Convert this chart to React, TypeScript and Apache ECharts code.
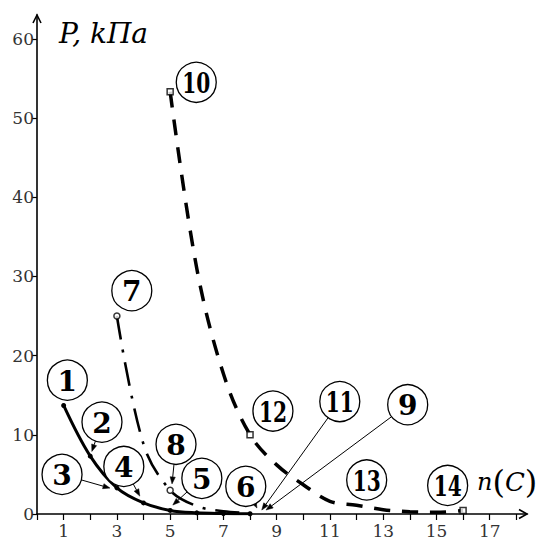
import React, { useEffect, useRef } from 'react';
import * as echarts from 'echarts';

// Curve 1 (solid, points 1–6)
const n1 = [1, 2, 3, 4, 5, 6, 7, 8];
const p1 = [13.7, 7.3, 3.3, 1.4, 0.45, 0.15, 0.06, 0.03];
// Curve 2 (dash-dot, points 7–9)
const n2 = [3, 4, 5, 6, 7, 8];
const p2 = [25, 8.8, 3.0, 1.0, 0.35, 0.12];
const marked2 = [0, 2];
// Curve 3 (dashed, points 10–14)
const n3 = [5, 6, 7, 8, 9, 10, 11, 12, 13, 14, 15, 16];
const p3 = [53.3, 31, 17.7, 10, 6.2, 3.7, 1.6, 1.1, 0.55, 0.28, 0.22, 0.45];
const marked3 = [0, 3, 11];

// Axis ticks
const xTickValues = [0, 1, 2, 3, 4, 5, 6, 7, 8, 9, 10, 11, 12, 13, 14, 15, 16, 17, 18];
const xLabelValues = [1, 3, 5, 7, 9, 11, 13, 15, 17];
const yTickValues = [0, 10, 20, 30, 40, 50, 60];

// Callout circles (label, centre in data units)
const calloutText = ['1', '2', '3', '4', '5', '6', '7', '8', '9', '10', '11', '12', '13', '14'];
const calloutN = [1.14, 2.44, 0.94, 3.26, 6.19, 7.84, 3.56, 5.22, 13.92, 5.98, 11.37, 8.86, 12.38, 15.42];
const calloutP = [16.9, 11.6, 5.0, 6.0, 4.5, 3.5, 28.2, 8.8, 13.8, 54.5, 14.2, 13.0, 4.3, 3.6];

// Leader arrows: which callout, target in data units
const leaderOf = ['2', '3', '4', '8', '5', '6', '11', '9'];
const leaderToN = [2.06, 2.74, 3.86, 5.07, 5.1, 8.26, 8.44, 8.6];
const leaderToP = [7.9, 3.27, 2.26, 3.8, 1.13, 0.75, 0.5, 0.5];

const SERIF = 'DejaVu Serif';

export default function App() {
  const ref = useRef<HTMLDivElement>(null);

  useEffect(() => {
    if (!ref.current) return;
    const chart = echarts.init(ref.current, undefined, { renderer: 'svg' });

    const zip = (xs: number[], ys: number[]) => xs.map((x, i) => [x, ys[i]]);

    chart.setOption({
      animation: false,
      backgroundColor: '#ffffff',
      textStyle: { fontFamily: SERIF },
      grid: { left: 37, right: 13, top: 15, bottom: 23, containLabel: false },
      xAxis: {
        type: 'value',
        min: 0,
        max: 18.4,
        splitLine: { show: false },
        axisLine: { onZero: false, lineStyle: { color: '#000', width: 1.6 } },
        axisTick: {
          show: true,
          length: 6,
          customValues: xTickValues,
          lineStyle: { color: '#000', width: 1.2 },
        },
        axisLabel: {
          customValues: xLabelValues,
          margin: 8,
          fontFamily: SERIF,
          fontSize: 17,
          color: '#333',
        },
      },
      yAxis: {
        type: 'value',
        min: 0,
        max: 63,
        splitLine: { show: false },
        axisLine: { onZero: false, lineStyle: { color: '#000', width: 1.6 } },
        axisTick: {
          show: true,
          length: 5,
          customValues: yTickValues,
          lineStyle: { color: '#000', width: 1.2 },
        },
        axisLabel: {
          customValues: yTickValues,
          margin: 3,
          fontFamily: SERIF,
          fontSize: 17,
          color: '#333',
        },
      },
      series: [
        {
          type: 'line',
          data: zip(n1, p1),
          smooth: 0.35,
          symbol: 'circle',
          symbolSize: 5,
          itemStyle: { color: '#000' },
          lineStyle: { color: '#000', width: 3 },
          z: 3,
        },
        {
          type: 'line',
          data: zip(n2, p2),
          smooth: 0.35,
          showSymbol: false,
          lineStyle: { color: '#000', width: 2.6, type: [24, 10, 3, 10] },
          z: 3,
        },
        {
          type: 'line',
          data: zip(n3, p3),
          smooth: 0.35,
          showSymbol: false,
          lineStyle: { color: '#000', width: 3.5, type: [16, 12] },
          z: 3,
        },
        {
          type: 'scatter',
          data: marked2.map((i) => [n2[i], p2[i]]),
          symbol: 'circle',
          symbolSize: 6,
          itemStyle: { color: '#fff', borderColor: '#000', borderWidth: 1.5 },
          z: 5,
        },
        {
          type: 'scatter',
          data: marked3.map((i) => [n3[i], p3[i]]),
          symbol: 'rect',
          symbolSize: 6,
          itemStyle: { color: '#fff', borderColor: '#000', borderWidth: 1.5 },
          z: 5,
        },
      ],
    });

    const px = (n: number, p: number) =>
      chart.convertToPixel({ gridIndex: 0 }, [n, p]) as number[];

    const R = 20;
    const elements: any[] = [];

    // Axis arrowheads
    const xEnd = px(18.4, 0);
    const yEnd = px(0, 63);
    elements.push({
      type: 'polyline',
      shape: { points: [[xEnd[0] - 8, xEnd[1] - 4.5], [xEnd[0], xEnd[1]], [xEnd[0] - 8, xEnd[1] + 4.5]] },
      style: { stroke: '#000', lineWidth: 1.6, fill: 'none' },
      z: 10,
    });
    elements.push({
      type: 'polyline',
      shape: { points: [[yEnd[0] - 4, yEnd[1] + 8], [yEnd[0], yEnd[1]], [yEnd[0] + 4, yEnd[1] + 8]] },
      style: { stroke: '#000', lineWidth: 1.6, fill: 'none' },
      z: 10,
    });

    // Axis names
    elements.push({
      type: 'text',
      x: 59,
      y: 33,
      style: {
        text: 'P, kПa',
        fontFamily: SERIF,
        fontStyle: 'italic',
        fontSize: 28,
        fill: '#000',
        align: 'left',
        verticalAlign: 'middle',
      },
      z: 10,
    });
    elements.push({
      type: 'text',
      x: 477,
      y: 482,
      style: {
        text: '{n|n}{p|(}{c|C}{p|)}',
        fontFamily: SERIF,
        align: 'left',
        verticalAlign: 'middle',
        rich: {
          n: { fontFamily: SERIF, fontStyle: 'italic', fontSize: 24, fill: '#000' },
          p: { fontFamily: SERIF, fontSize: 32, fill: '#000' },
          c: { fontFamily: SERIF, fontStyle: 'italic', fontSize: 26, fill: '#000' },
        },
      },
      z: 10,
    });

    // Callout circles
    calloutText.forEach((t, i) => {
      const c = px(calloutN[i], calloutP[i]);
      elements.push({
        type: 'circle',
        shape: { cx: c[0], cy: c[1], r: R },
        style: { fill: '#fff', stroke: '#000', lineWidth: 1.3 },
        z: 8,
      });
      elements.push({
        type: 'text',
        x: c[0],
        y: c[1] + 1,
        scaleX: t.length > 1 ? 0.72 : 1,
        style: {
          text: t,
          fontFamily: SERIF,
          fontWeight: 'bold',
          fontSize: 28,
          fill: '#000',
          align: 'center',
          verticalAlign: 'middle',
        },
        z: 9,
      });
    });

    // Leader arrows
    leaderOf.forEach((t, k) => {
      const i = calloutText.indexOf(t);
      const c = px(calloutN[i], calloutP[i]);
      const e = px(leaderToN[k], leaderToP[k]);
      const dx = e[0] - c[0];
      const dy = e[1] - c[1];
      const len = Math.hypot(dx, dy);
      const ux = dx / len;
      const uy = dy / len;
      const s = [c[0] + ux * R, c[1] + uy * R];
      const ah = 7;
      const aw = 2.6;
      const b = [e[0] - ux * ah, e[1] - uy * ah];
      elements.push({
        type: 'line',
        shape: { x1: s[0], y1: s[1], x2: b[0], y2: b[1] },
        style: { stroke: '#000', lineWidth: 1 },
        z: 7,
      });
      elements.push({
        type: 'polygon',
        shape: {
          points: [
            [e[0], e[1]],
            [b[0] - uy * aw, b[1] + ux * aw],
            [b[0] + uy * aw, b[1] - ux * aw],
          ],
        },
        style: { fill: '#000', stroke: '#000', lineWidth: 0.5 },
        z: 7,
      });
    });

    chart.setOption({ graphic: { elements } });

    return () => chart.dispose();
  }, []);

  return (
    <div
      ref={ref}
      style={{ position: 'absolute', left: 0, top: 0, width: 540, height: 539, background: '#fff' }}
    />
  );
}
